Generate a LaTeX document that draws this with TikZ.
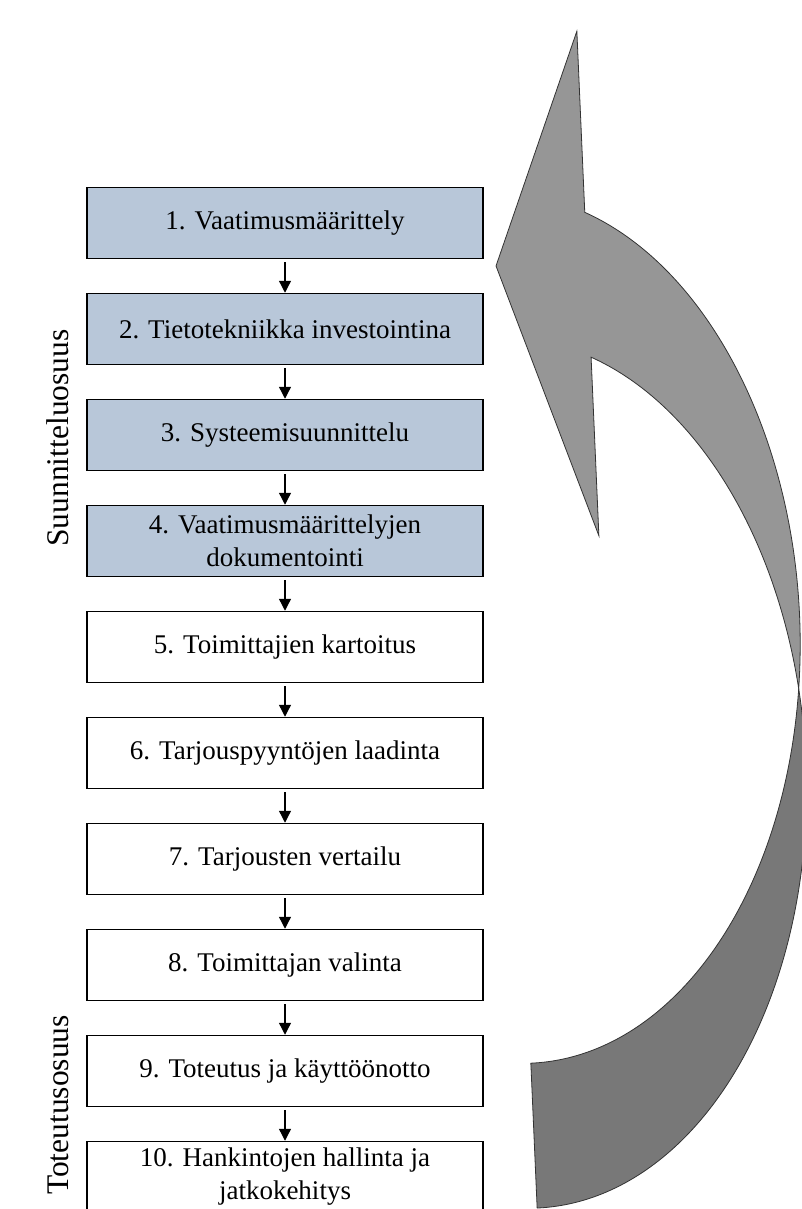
\documentclass[tikz,border=0pt]{standalone}
\usepackage{fontspec}
\setmainfont{Liberation Serif}
\usetikzlibrary{positioning}
\usetikzlibrary{arrows.meta}

\definecolor{laatikko}{RGB}{184,199,217}
\definecolor{vaalea}{RGB}{150,150,150}
\definecolor{tumma}{RGB}{120,120,120}

\tikzset{
  vaihe/.style={draw, line width=1.5pt, minimum width=396pt, minimum height=71pt,
    inner sep=0pt, align=center, font=\fontsize{27pt}{33pt}\selectfont},
  suunn/.style={vaihe, fill=laatikko},
  toteut/.style={vaihe, fill=white},
  nuoli/.style={line width=1.3pt, -{Triangle[length=12pt,width=12pt]}, shorten <=3pt},
  sivu/.style={rotate=90, font=\fontsize{31.5pt}{36pt}\selectfont}
}

\begin{document}
\begin{tikzpicture}[x=1pt,y=1pt]

  \path[use as bounding box, fill=white] (0,0) rectangle (801,-1209);

  % kaareva paluunuoli
  \begin{scope}[shift={(550,-700)}, rotate=2.5, draw=black!80, line width=0.8pt]
    \filldraw[fill=tumma] (248.97,0.5)
      arc[start angle=-9.594, end angle=-90, x radius=288pt, y radius=435pt]
      -- (-35,-507)
      arc[start angle=-90, end angle=9.594, x radius=288pt, y radius=435pt] -- cycle;
    \filldraw[fill=vaalea] (56,485.7)
      arc[start angle=71.58, end angle=-9.594, x radius=288pt, y radius=435pt]
      arc[start angle=9.594, end angle=71.58, x radius=288pt, y radius=435pt]
      -- (56,162) -- (-35,436) -- (56,667) -- cycle;
  \end{scope}

  \node (b1) [suunn] at (285,-223) {1. Vaatimusmäärittely};
  \node (b2) [suunn, below=33.5pt of b1] {2. Tietotekniikka investointina};
  \node (b3) [suunn, below=33.5pt of b2] {3. Systeemisuunnittelu};
  \node (b4) [suunn, below=33.5pt of b3] {4. Vaatimusmäärittelyjen\\dokumentointi};
  \node (b5) [toteut, below=33.5pt of b4] {5. Toimittajien kartoitus};
  \node (b6) [toteut, below=33.5pt of b5] {6. Tarjouspyyntöjen laadinta};
  \node (b7) [toteut, below=33.5pt of b6] {7. Tarjousten vertailu};
  \node (b8) [toteut, below=33.5pt of b7] {8. Toimittajan valinta};
  \node (b9) [toteut, below=33.5pt of b8] {9. Toteutus ja käyttöönotto};
  \node (b10) [toteut, below=33.5pt of b9] {10. Hankintojen hallinta ja\\jatkokehitys};

  \node (suunnittelu) [sivu] at (58,-438) {Suunnitteluosuus};
  \node (toteutus) [sivu] at (58,-1105) {Toteutusosuus};

  \draw[nuoli] (b1) -- (b2);
  \draw[nuoli] (b2) -- (b3);
  \draw[nuoli] (b3) -- (b4);
  \draw[nuoli] (b4) -- (b5);
  \draw[nuoli] (b5) -- (b6);
  \draw[nuoli] (b6) -- (b7);
  \draw[nuoli] (b7) -- (b8);
  \draw[nuoli] (b8) -- (b9);
  \draw[nuoli] (b9) -- (b10);
\end{tikzpicture}
\end{document}
